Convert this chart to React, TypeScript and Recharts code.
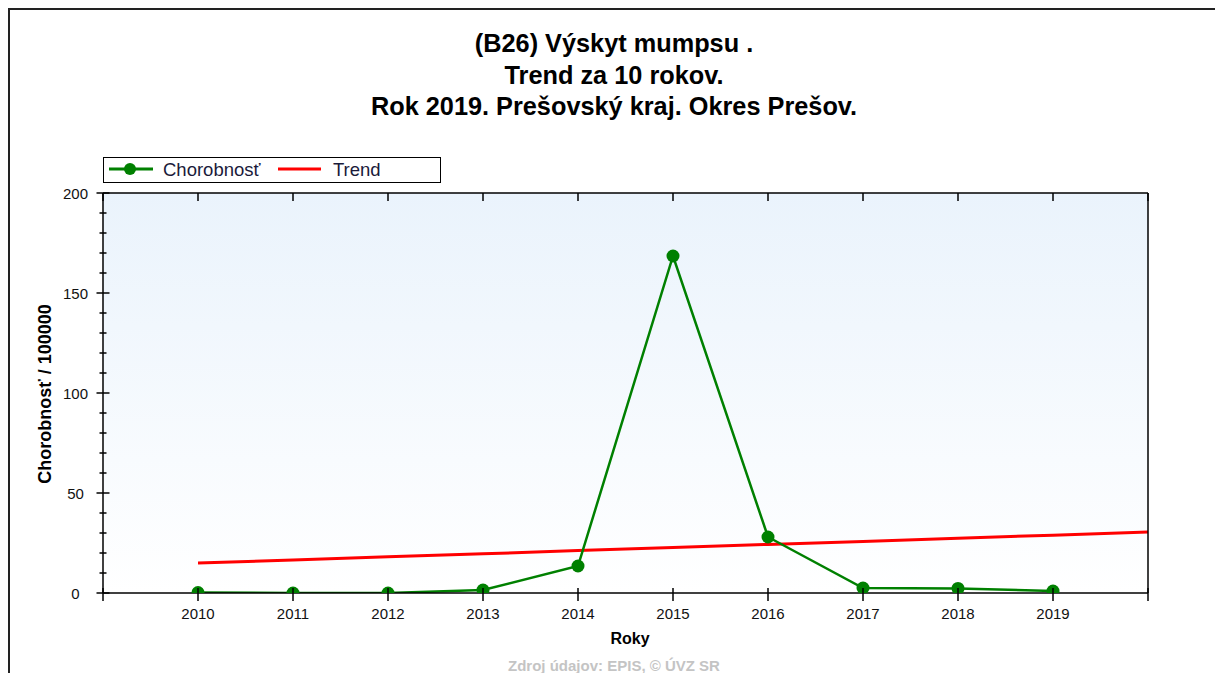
import React from "react";
import { ComposedChart, Line, XAxis, YAxis, CartesianGrid } from "recharts";

const years = [2010, 2011, 2012, 2013, 2014, 2015, 2016, 2017, 2018, 2019, 2020];
const chorobnost = [0.2, 0, 0, 1.5, 13.5, 168.5, 28, 2.5, 2.3, 1.0, null];
const trend = [15, 16.5, 18.1, 19.6, 21.2, 22.7, 24.3, 25.8, 27.4, 28.9, 30.5];

const xTicks = [2009, 2010, 2011, 2012, 2013, 2014, 2015, 2016, 2017, 2018, 2019, 2020];
const xLabels = [2010, 2011, 2012, 2013, 2014, 2015, 2016, 2017, 2018, 2019];
const yTicks = [0, 10, 20, 30, 40, 50, 60, 70, 80, 90, 100, 110, 120, 130, 140, 150, 160, 170, 180, 190, 200];

const titleLines = ["(B26) Výskyt mumpsu .", "Trend za 10 rokov.", "Rok 2019. Prešovský kraj. Okres Prešov."];

const chartData = years.map((year, i) => ({
    year,
    chorobnost: chorobnost[i],
    trend: trend[i],
}));

const FONT = "'Liberation Sans', Arial, sans-serif";
const GREEN = "#008000";
const RED = "#FF0000";

function LeftTick(props: any) {
    const { x, y, payload } = props;
    const major = payload.value % 50 === 0;
    return (
        <g>
            <line x1={major ? x - 6.5 : x - 3.5} x2={major ? x + 6.5 : x + 3.5} y1={y} y2={y} stroke="#000" strokeWidth={1.5} />
            {major && (
                <text x={x - 27.5} y={y + 5.5} textAnchor="middle" fontSize={15} fontFamily={FONT} fill="#111">
                    {payload.value}
                </text>
            )}
        </g>
    );
}

function RightTick(props: any) {
    const { x, y, payload } = props;
    const major = payload.value % 50 === 0;
    return (
        <g>
            <line x1={major ? x - 6 : x - 3.5} x2={major ? x + 6 : x + 3.5} y1={y} y2={y} stroke="#000" strokeWidth={1.5} />
            {major && (
                <text x={x + 27} y={y + 5.5} textAnchor="middle" fontSize={15} fontFamily={FONT} fill="#111">
                    {payload.value}
                </text>
            )}
        </g>
    );
}

function BottomTick(props: any) {
    const { x, y, payload } = props;
    const labelled = xLabels.includes(payload.value);
    return (
        <g>
            <line x1={x} x2={x} y1={y - 5} y2={y + 8} stroke="#000" strokeWidth={1.5} />
            {labelled && (
                <text x={x} y={y + 25.5} textAnchor="middle" fontSize={15} fontFamily={FONT} fill="#111">
                    {payload.value}
                </text>
            )}
        </g>
    );
}

function TopTick(props: any) {
    const { x, y } = props;
    return <line x1={x} x2={x} y1={y} y2={y + 8} stroke="#000" strokeWidth={1.5} />;
}

function GreenDot(props: any) {
    const { cx, cy, index } = props;
    if (cx == null || cy == null) return <g key={index} />;
    return <circle key={index} cx={cx} cy={cy} r={6.5} fill={GREEN} stroke="none" />;
}

function LegendBox() {
    return (
        <div
            style={{
                position: "absolute",
                left: 103,
                top: 157,
                width: 338,
                height: 26,
                border: "1.5px solid #000",
                boxSizing: "border-box",
                background: "#fff",
            }}
        >
            <svg width={335} height={23} style={{ position: "absolute", left: 0, top: 0 }}>
                <line x1={5} x2={49} y1={11} y2={11} stroke={GREEN} strokeWidth={3} />
                <circle cx={26} cy={11} r={6} fill={GREEN} />
                <text x={59} y={17.5} fontSize={18.5} fontFamily={FONT} fill="#1a1a3a">Chorobnosť</text>
                <line x1={174} x2={217} y1={11} y2={11} stroke={RED} strokeWidth={3} />
                <text x={229} y={17.5} fontSize={18.5} fontFamily={FONT} fill="#1a1a3a">Trend</text>
            </svg>
        </div>
    );
}

export default function App() {
    return (
        <div style={{ position: "fixed", left: 0, top: 0, width: 1215, height: 673, overflow: "hidden", background: "#fff" }}>
            <div
                style={{
                    position: "absolute",
                    left: 8,
                    top: 8,
                    width: 1207,
                    height: 665,
                    borderTop: "2px solid #222",
                    borderLeft: "2px solid #222",
                    boxSizing: "border-box",
                }}
            />
            {titleLines.map((line, i) => (
                <div
                    key={i}
                    style={{
                        position: "absolute",
                        left: 0,
                        width: 1228,
                        top: 28 + i * 31.5,
                        textAlign: "center",
                        fontFamily: FONT,
                        fontWeight: "bold",
                        fontSize: 25.3,
                        lineHeight: "30px",
                        color: "#000",
                    }}
                >
                    {line}
                </div>
            ))}
            <div style={{ position: "absolute", left: 10, top: 10 }}>
                <ComposedChart
                    width={1205}
                    height={663}
                    data={chartData}
                    margin={{ top: 175, right: 0, left: 0, bottom: 40 }}
                >
                    <defs>
                        <linearGradient id="plotBg" x1="0" y1="0" x2="0" y2="1">
                            <stop offset="0%" stopColor="#EAF3FC" />
                            <stop offset="100%" stopColor="#FFFFFF" />
                        </linearGradient>
                    </defs>
                    <CartesianGrid horizontal={false} vertical={false} fill="url(#plotBg)" />
                    <XAxis
                        xAxisId="bottom"
                        dataKey="year"
                        type="number"
                        domain={[2009, 2020]}
                        ticks={xTicks}
                        interval={0}
                        allowDataOverflow
                        height={40}
                        tickSize={0}
                        tickMargin={0}
                        tickLine={false}
                        tick={<BottomTick />}
                        axisLine={{ stroke: "#000", strokeWidth: 1.5 }}
                    />
                    <XAxis
                        xAxisId="top"
                        orientation="top"
                        dataKey="year"
                        type="number"
                        domain={[2009, 2020]}
                        ticks={xTicks}
                        interval={0}
                        height={8}
                        tickSize={0}
                        tickMargin={0}
                        tickLine={false}
                        tick={<TopTick />}
                        axisLine={{ stroke: "#000", strokeWidth: 1.5 }}
                    />
                    <YAxis
                        yAxisId="left"
                        orientation="left"
                        domain={[0, 200]}
                        ticks={yTicks}
                        interval={0}
                        allowDataOverflow
                        width={93}
                        tickSize={0}
                        tickMargin={0}
                        tickLine={false}
                        tick={<LeftTick />}
                        axisLine={{ stroke: "#000", strokeWidth: 1.5 }}
                    />
                    <YAxis
                        yAxisId="right"
                        orientation="right"
                        domain={[0, 200]}
                        ticks={yTicks}
                        interval={0}
                        width={67}
                        tickSize={0}
                        tickMargin={0}
                        tickLine={false}
                        tick={<RightTick />}
                        axisLine={{ stroke: "#000", strokeWidth: 1.5 }}
                    />
                    <Line
                        name="Trend"
                        xAxisId="bottom"
                        yAxisId="left"
                        type="linear"
                        dataKey="trend"
                        stroke={RED}
                        strokeWidth={3}
                        dot={false}
                        activeDot={false}
                        isAnimationActive={false}
                    />
                    <Line
                        name="Chorobnosť"
                        xAxisId="bottom"
                        yAxisId="left"
                        type="linear"
                        dataKey="chorobnost"
                        stroke={GREEN}
                        strokeWidth={2.5}
                        dot={<GreenDot />}
                        activeDot={false}
                        isAnimationActive={false}
                    />
                </ComposedChart>
            </div>
            <LegendBox />
            <div style={{ position: "absolute", left: 45, top: 394, width: 0, height: 0 }}>
                <div
                    style={{
                        position: "absolute",
                        left: 0,
                        top: 0,
                        transform: "translate(-50%, -50%) rotate(-90deg)",
                        whiteSpace: "nowrap",
                        fontFamily: FONT,
                        fontWeight: "bold",
                        fontSize: 18,
                        color: "#000",
                    }}
                >
                    Chorobnosť / 100000
                </div>
            </div>
            <div
                style={{
                    position: "absolute",
                    left: 530,
                    width: 200,
                    top: 629,
                    textAlign: "center",
                    fontFamily: FONT,
                    fontWeight: "bold",
                    fontSize: 16,
                    lineHeight: "20px",
                    color: "#000",
                }}
            >
                Roky
            </div>
            <div
                style={{
                    position: "absolute",
                    left: 414,
                    width: 400,
                    top: 656,
                    textAlign: "center",
                    fontFamily: FONT,
                    fontWeight: "bold",
                    fontSize: 15,
                    lineHeight: "20px",
                    color: "#c4c4c4",
                }}
            >
                Zdroj údajov: EPIS, © ÚVZ SR
            </div>
        </div>
    );
}
